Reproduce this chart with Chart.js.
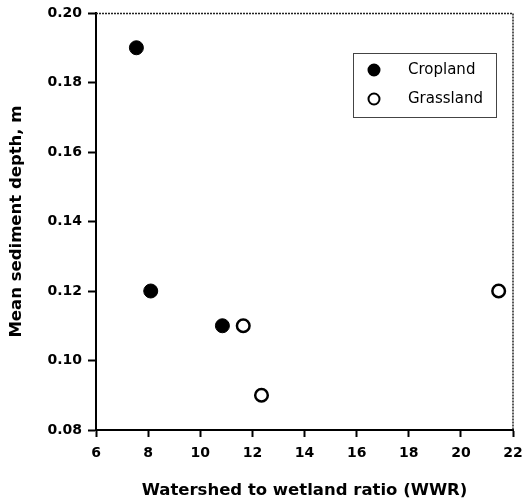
<!DOCTYPE html>
<html>
<head>
<meta charset="utf-8">
<script src="https://cdn.jsdelivr.net/npm/chart.js@4"></script>
<style>
  html, body { margin: 0; padding: 0; background: #fff; }
  #wrap { width: 525px; height: 503px; position: relative; }
</style>
</head>
<body>
<div id="wrap"><canvas id="chart"></canvas></div>
<script>
const croplandWWR = [7.55, 8.1, 10.85];
const croplandDepth = [0.19, 0.12, 0.11];
const grasslandWWR = [11.65, 12.35, 21.45];
const grasslandDepth = [0.11, 0.09, 0.12];
const xTicks = [6, 8, 10, 12, 14, 16, 18, 20, 22];
const yTicks = [0.08, 0.10, 0.12, 0.14, 0.16, 0.18, 0.20];

const FONT = "'DejaVu Sans', Verdana, sans-serif";

const toPoints = (xs, ys) => xs.map((x, i) => ({ x: x, y: ys[i] }));

// thin frame on top/right + legend box inside the plot
const framePlugin = {
  id: "frame",
  afterDraw(chart) {
    const { ctx, chartArea: a } = chart;
    ctx.save();
    ctx.strokeStyle = "#222";
    ctx.lineWidth = 1.5;
    ctx.setLineDash([2, 1]);
    ctx.beginPath();
    ctx.moveTo(a.left, a.top + 0.5);
    ctx.lineTo(a.right, a.top + 0.5);
    ctx.lineTo(a.right, a.bottom);
    ctx.stroke();

    // legend
    const bx = 353, by = 53, bw = 143, bh = 64;
    ctx.setLineDash([]);
    ctx.lineWidth = 1;
    ctx.strokeStyle = "#444";
    ctx.strokeRect(bx + 0.5, by + 0.5, bw, bh);
    ctx.font = "15px " + FONT;
    ctx.textBaseline = "middle";
    ctx.textAlign = "left";
    chart.data.datasets.forEach((ds, i) => {
      const cy = 70 + i * 29;
      ctx.beginPath();
      ctx.arc(374, cy, 5.5, 0, Math.PI * 2);
      ctx.fillStyle = ds.backgroundColor;
      ctx.fill();
      ctx.lineWidth = 2;
      ctx.strokeStyle = "#000";
      ctx.stroke();
      ctx.fillStyle = "#000";
      ctx.fillText(ds.label, 408, cy);
    });
    ctx.restore();
  },
};

new Chart(document.getElementById("chart"), {
  type: "scatter",
  data: {
    datasets: [
      {
        label: "Cropland",
        data: toPoints(croplandWWR, croplandDepth),
        backgroundColor: "#000",
        borderColor: "#000",
        borderWidth: 1,
        pointRadius: 7,
      },
      {
        label: "Grassland",
        data: toPoints(grasslandWWR, grasslandDepth),
        backgroundColor: "#fff",
        borderColor: "#000",
        borderWidth: 2.5,
        pointRadius: 6.3,
      },
    ],
  },
  options: {
    animation: false,
    responsive: true,
    maintainAspectRatio: false,
    layout: { padding: { top: 13, right: 12, left: 0, bottom: 0 } },
    plugins: {
      legend: { display: false },
      tooltip: { enabled: false },
    },
    scales: {
      x: {
        type: "linear",
        min: 6,
        max: 22,
        afterBuildTicks: (s) => { s.ticks = xTicks.map((v) => ({ value: v })); },
        afterFit: (s) => {
          s.height = 73;
          s.paddingLeft = 0;
          s.paddingRight = 0;
        },
        grid: { drawOnChartArea: false, tickLength: 7, tickWidth: 2, tickColor: "#000" },
        border: { color: "#000", width: 2 },
        ticks: {
          color: "#000",
          padding: 8,
          maxRotation: 0,
          font: { family: FONT, size: 14, weight: "bold" },
        },
        title: {
          display: true,
          text: "Watershed to wetland ratio (WWR)",
          color: "#000",
          padding: { top: 0, bottom: 2 },
          font: { family: FONT, size: 16.5, weight: "bold" },
        },
      },
      y: {
        type: "linear",
        min: 0.08,
        max: 0.20,
        afterBuildTicks: (s) => { s.ticks = yTicks.map((v) => ({ value: v })); },
        afterFit: (s) => {
          s.width = 96;
          s.paddingTop = 0;
          s.paddingBottom = 0;
        },
        grid: { drawOnChartArea: false, tickLength: 8, tickWidth: 2, tickColor: "#000" },
        border: { color: "#000", width: 2 },
        ticks: {
          color: "#000",
          padding: 6,
          callback: (v) => v.toFixed(2),
          font: { family: FONT, size: 14, weight: "bold" },
        },
        title: {
          display: true,
          text: "Mean sediment depth, m",
          color: "#000",
          padding: { top: 7, bottom: 0 },
          font: { family: FONT, size: 16.5, weight: "bold" },
        },
      },
    },
  },
  plugins: [framePlugin],
});
</script>
</body>
</html>
